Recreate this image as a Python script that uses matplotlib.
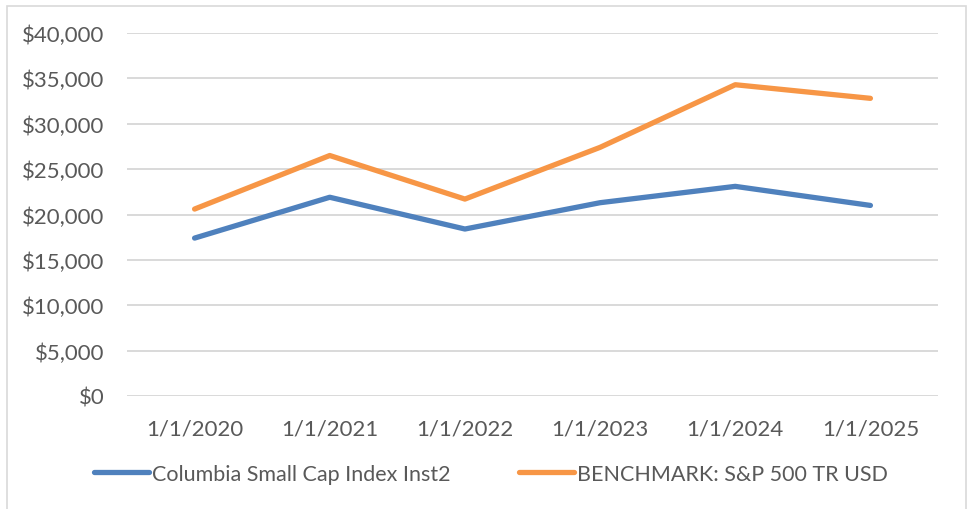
import matplotlib
matplotlib.use("Agg")
import matplotlib.pyplot as plt
from matplotlib.ticker import FuncFormatter
from matplotlib.patches import Rectangle

# valores
fechas = ["1/1/2020", "1/1/2021", "1/1/2022", "1/1/2023", "1/1/2024", "1/1/2025"]
fondo = [17400, 21900, 18400, 21300, 23100, 21000]
benchmark = [20600, 26500, 21700, 27400, 34300, 32800]
nombre_fondo = "Columbia Small Cap Index Inst2"
nombre_bench = "BENCHMARK: S&P 500 TR USD"
y_ticks = [0, 5000, 10000, 15000, 20000, 25000, 30000, 35000, 40000]

azul = "#4F81BD"
naranja = "#F79646"
gris_texto = "#595959"

plt.rcParams["font.family"] = ["Lato", "DejaVu Sans"]

fig = plt.figure(figsize=(9.74, 5.10), dpi=100)
ax = fig.add_axes([127 / 974, 1 - 397 / 510, (938 - 127) / 974, (397 - 34) / 510])

x = range(len(fechas))
ax.plot(x, fondo, color=azul, lw=3.8, solid_capstyle="round", solid_joinstyle="round", label=nombre_fondo)
ax.plot(x, benchmark, color=naranja, lw=3.8, solid_capstyle="round", solid_joinstyle="round", label=nombre_bench)

ax.set_xlim(-0.5, len(fechas) - 0.5)
ax.set_ylim(0, 40000)
ax.set_yticks(y_ticks)
ax.yaxis.set_major_formatter(FuncFormatter(lambda v, p: "${:,.0f}".format(v)))
ax.set_xticks(list(x))
ax.set_xticklabels(fechas)

ax.grid(axis="y", color="#D9D9D9", lw=1.4)
ax.set_axisbelow(True)
for s in ax.spines.values():
    s.set_visible(False)
ax.tick_params(length=0, labelsize=16, colors=gris_texto)
ax.tick_params(axis="y", pad=16)
ax.tick_params(axis="x", pad=16)

leg = fig.legend(loc="center", bbox_to_anchor=(0.504, 1 - 475 / 510), ncol=2, frameon=False,
                 fontsize=15.5, handlelength=2.55, handletextpad=0.15, columnspacing=3.2)
for t in leg.get_texts():
    t.set_color(gris_texto)

# borde del area del grafico
fig.patches.append(Rectangle((7 / 974, -0.05), (966 - 7) / 974, 1 - 7 / 510 + 0.05,
                             transform=fig.transFigure, fill=False, ec="#D9D9D9", lw=1.2))

fig.savefig("out.png", dpi=100)
